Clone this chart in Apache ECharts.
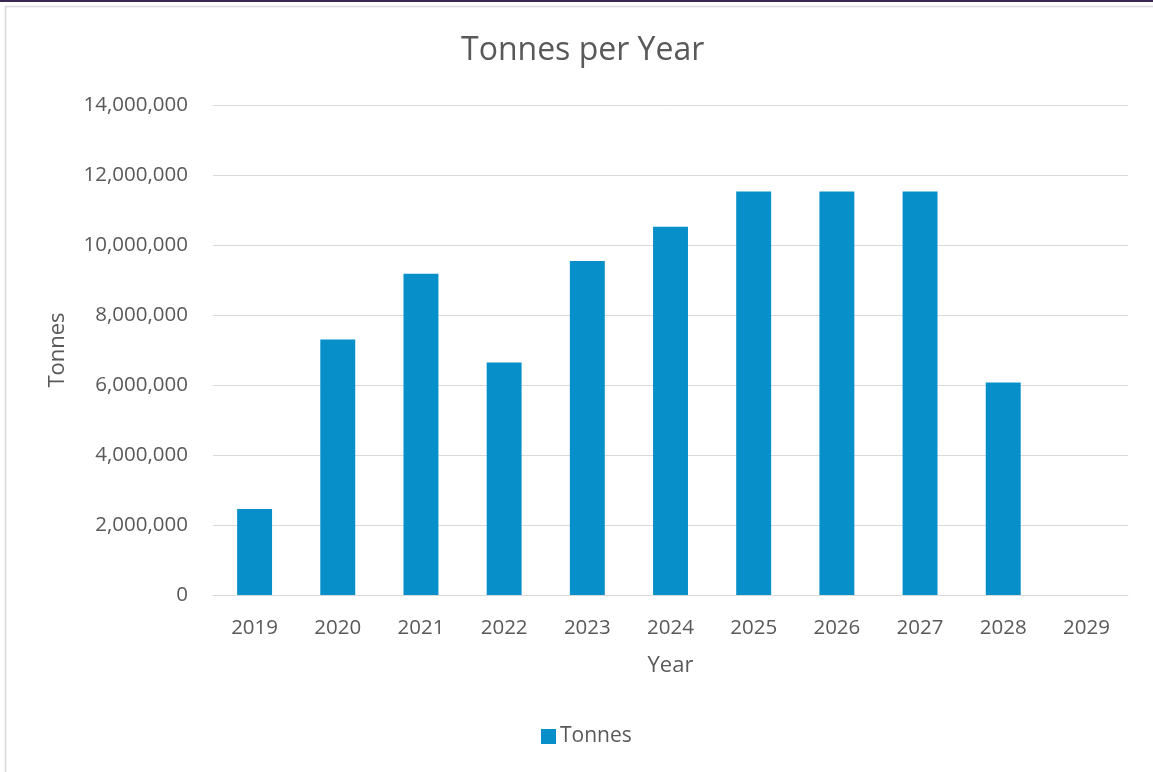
<!DOCTYPE html>
<html>
<head>
<meta charset="utf-8">
<script src="https://cdn.jsdelivr.net/npm/echarts@6/dist/echarts.min.js"></script>
<style>
  html, body { margin: 0; padding: 0; background: #ffffff; }
  #chart { width: 1153px; height: 772px; }
</style>
</head>
<body>
<div id="chart"></div>
<script>
// Annual tonnage, 2019–2029
const years = ['2019', '2020', '2021', '2022', '2023', '2024', '2025', '2026', '2027', '2028', '2029'];
const tonnes = [2460000, 7300000, 9180000, 6640000, 9540000, 10520000, 11530000, 11530000, 11530000, 6070000, 0];
const yTicks = [0, 2000000, 4000000, 6000000, 8000000, 10000000, 12000000, 14000000];

const FONT = '"Open Sans", "Liberation Sans", sans-serif';
const TEXT = '#595959';
const BAR = '#078fca';

const chart = echarts.init(document.getElementById('chart'), null, { renderer: 'canvas' });

chart.setOption({
  backgroundColor: '#ffffff',
  animation: false,
  textStyle: { fontFamily: FONT, color: TEXT },
  title: {
    text: 'Tonnes per Year',
    left: 461,
    top: 35,
    padding: 0,
    textStyle: { fontFamily: FONT, fontSize: 32, fontWeight: 'normal', color: TEXT }
  },
  legend: {
    data: ['Tonnes'],
    bottom: 20,
    left: 536,
    itemWidth: 15,
    itemHeight: 15,
    itemGap: 6,
    icon: 'rect',
    textStyle: { fontFamily: FONT, fontSize: 21, color: TEXT, padding: [0, 0, 0, -1] }
  },
  grid: { left: 213, right: 25, top: 105, bottom: 177, containLabel: false },
  xAxis: {
    type: 'category',
    data: years,
    name: 'Year',
    nameLocation: 'middle',
    nameGap: 60,
    nameTextStyle: { fontFamily: FONT, fontSize: 22, color: TEXT },
    axisLine: { show: true, lineStyle: { color: '#d9d9d9', width: 1 } },
    axisTick: { show: false },
    axisLabel: { fontFamily: FONT, fontSize: 20.5, color: TEXT, margin: 23 }
  },
  yAxis: {
    type: 'value',
    min: yTicks[0],
    max: yTicks[yTicks.length - 1],
    interval: yTicks[1] - yTicks[0],
    name: 'Tonnes',
    nameLocation: 'middle',
    nameGap: 144,
    nameRotate: 90,
    nameTextStyle: { fontFamily: FONT, fontSize: 22, color: TEXT },
    axisLine: { show: false },
    axisTick: { show: false },
    splitLine: { lineStyle: { color: '#d9d9d9', width: 1 } },
    axisLabel: {
      fontFamily: FONT, fontSize: 20.5, color: TEXT, margin: 25,
      formatter: v => v.toLocaleString('en-US')
    }
  },
  series: [{
    name: 'Tonnes',
    type: 'bar',
    data: tonnes,
    barWidth: '42%',
    itemStyle: { color: BAR }
  }],
  graphic: [
    { type: 'rect', shape: { x: 0, y: 0, width: 1153, height: 2 }, style: { fill: '#3a2852' }, z: 100 },
    { type: 'rect', shape: { x: 5.5, y: 6.5, width: 1170, height: 800 }, style: { fill: 'none', stroke: '#d9d9d9', lineWidth: 1.5 }, z: 100 }
  ]
});
</script>
</body>
</html>
